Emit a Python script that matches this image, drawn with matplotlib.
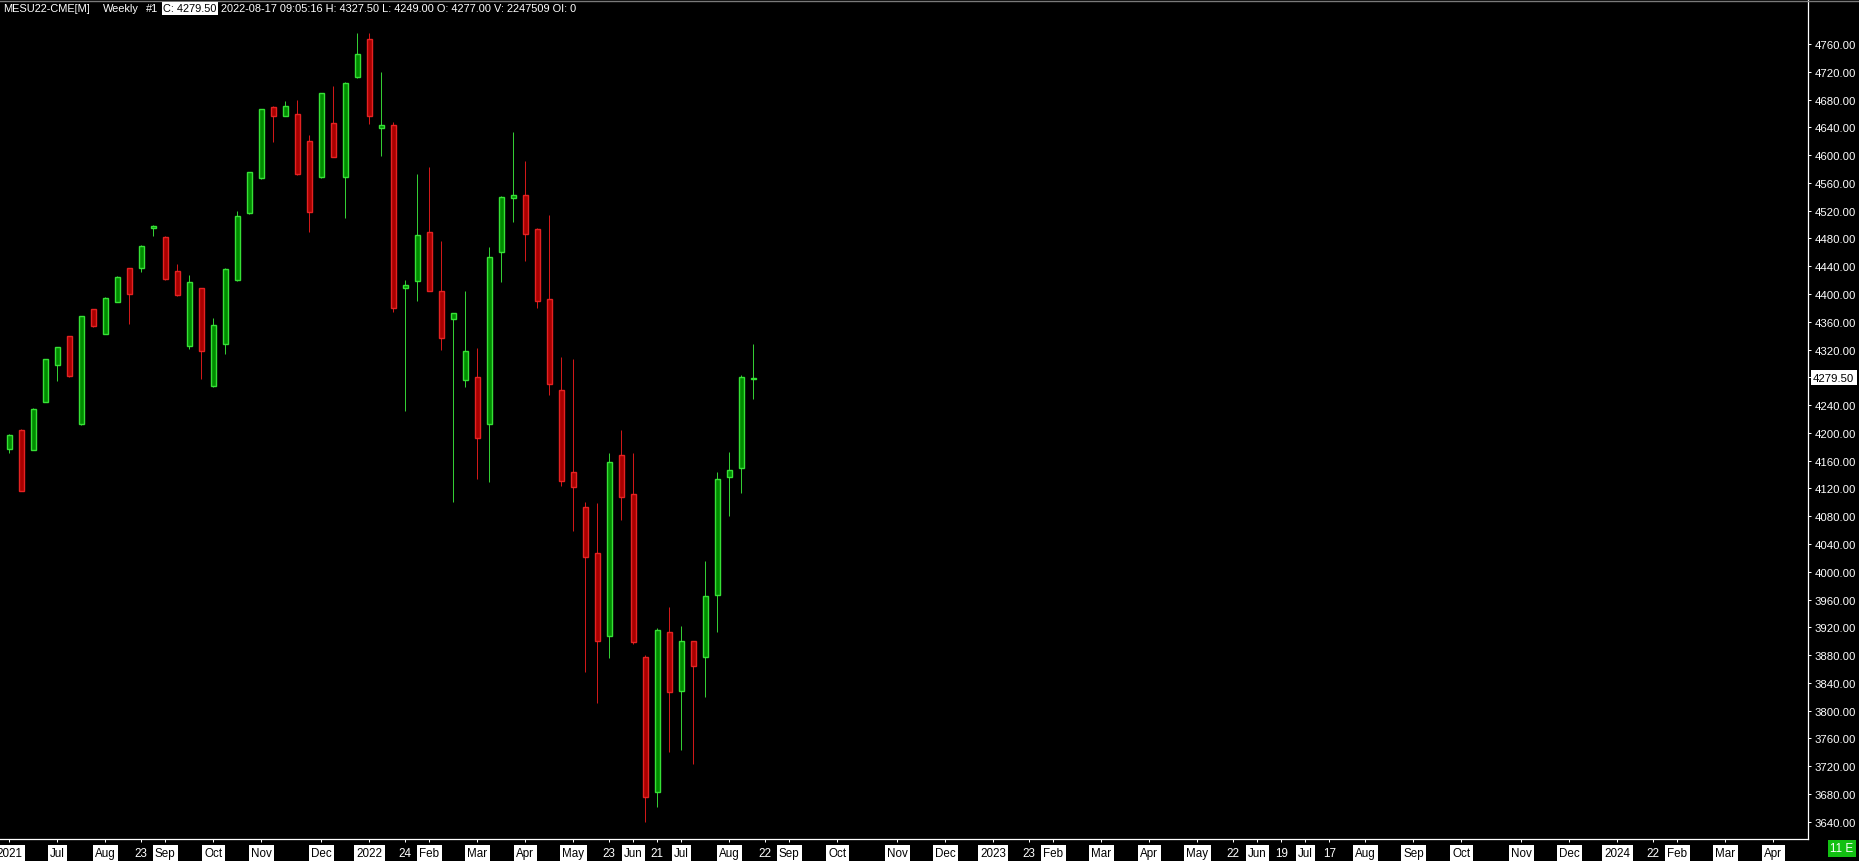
import numpy as np
import pandas as pd
import matplotlib
matplotlib.use("Agg")
import matplotlib.pyplot as plt
from matplotlib.lines import Line2D
from matplotlib.font_manager import FontProperties
import matplotlib.transforms as mtransforms

# ---------------- data ----------------
start_week = "2021-06-07"
opens = [4177, 4204, 4176, 4245, 4298, 4339, 4213, 4378, 4343, 4389,
         4437, 4437, 4495, 4482, 4433, 4325, 4408, 4267, 4328, 4420,
         4516, 4567, 4670, 4657, 4659, 4620, 4568, 4646, 4568, 4712,
         4767, 4639, 4643, 4409, 4419, 4489, 4404, 4364, 4276, 4280,
         4213, 4460, 4538, 4543, 4494, 4393, 4262, 4143, 4093, 4027,
         3908, 4168, 4112, 3877, 3683, 3914, 3828, 3900, 3878, 3966,
         4136, 4149, 4277.0]
highs = [4198, 4205, 4236, 4307, 4324, 4340, 4369, 4379, 4395, 4426,
         4438, 4470, 4500, 4483, 4443, 4427, 4409, 4365, 4438, 4520,
         4576, 4667, 4671, 4678, 4679, 4629, 4690, 4699, 4705, 4776,
         4776, 4719, 4648, 4420, 4573, 4583, 4476, 4373, 4404, 4322,
         4467, 4541, 4633, 4592, 4495, 4514, 4309, 4306, 4101, 4099,
         4171, 4204, 4171, 3880, 3919, 3950, 3922, 3901, 4015, 4143,
         4173, 4283, 4327.5]
lows = [4171, 4116, 4175, 4244, 4275, 4281, 4212, 4353, 4342, 4388,
        4357, 4431, 4483, 4420, 4397, 4321, 4277, 4266, 4314, 4419,
        4515, 4566, 4619, 4656, 4572, 4489, 4567, 4597, 4510, 4711,
        4645, 4599, 4374, 4231, 4390, 4404, 4320, 4100, 4266, 4133,
        4130, 4418, 4504, 4448, 4380, 4254, 4124, 4059, 3856, 3811,
        3876, 4075, 3896, 3640, 3662, 3741, 3744, 3723, 3820, 3914,
        4081, 4114, 4249.0]
closes = [4197, 4117, 4235, 4306, 4323, 4282, 4368, 4354, 4394, 4425,
          4400, 4469, 4498, 4421, 4398, 4418, 4318, 4356, 4436, 4512,
          4575, 4666, 4656, 4671, 4573, 4518, 4689, 4598, 4704, 4746,
          4657, 4643, 4380, 4413, 4485, 4405, 4336, 4372, 4318, 4192,
          4454, 4539, 4542, 4487, 4390, 4271, 4131, 4122, 4022, 3901,
          4158, 4108, 3899, 3675, 3916, 3827, 3900, 3864, 3965, 4134,
          4147, 4281, 4279.5]

tick_dates = ["2021-06-07", "2021-07-05", "2021-08-02", "2021-08-23", "2021-09-06",
              "2021-10-04", "2021-11-01", "2021-12-06", "2022-01-03", "2022-01-24",
              "2022-02-07", "2022-03-07", "2022-04-04", "2022-05-02", "2022-05-23",
              "2022-06-06", "2022-06-20", "2022-07-04", "2022-08-01", "2022-08-22",
              "2022-09-05", "2022-10-03", "2022-11-07", "2022-12-05", "2023-01-02",
              "2023-01-23", "2023-02-06", "2023-03-06", "2023-04-03", "2023-05-01",
              "2023-05-22", "2023-06-05", "2023-06-19", "2023-07-03", "2023-07-17",
              "2023-08-07", "2023-09-04", "2023-10-02", "2023-11-06", "2023-12-04",
              "2024-01-01", "2024-01-22", "2024-02-05", "2024-03-04", "2024-04-01"]
tick_labels = ["2021", "Jul", "Aug", "23", "Sep", "Oct", "Nov", "Dec", "2022", "24",
               "Feb", "Mar", "Apr", "May", "23", "Jun", "21", "Jul", "Aug", "22",
               "Sep", "Oct", "Nov", "Dec", "2023", "23", "Feb", "Mar", "Apr", "May",
               "22", "Jun", "19", "Jul", "17", "Aug", "Sep", "Oct", "Nov", "Dec",
               "2024", "22", "Feb", "Mar", "Apr"]

header_symbol = "MESU22-CME[M]"
header_period = "Weekly"
header_num = "#1"
header_close = "C: 4279.50"
header_rest = "2022-08-17 09:05:16 H: 4327.50 L: 4249.00 O: 4277.00 V: 2247509 OI: 0"
last_price = 4279.5
last_label = "4279.50"
corner_label = "11 E"

# ---------------- fonts ----------------
plt.rcParams["font.family"] = ["Liberation Sans", "DejaVu Sans"]
hdr_fp = FontProperties(family=["Liberation Sans", "DejaVu Sans"])

W, H = 1859, 862
fig = plt.figure(figsize=(W / 100, H / 100), dpi=100, facecolor="black")
ax = fig.add_axes([0, 22 / H, 1808 / W, 839 / H], facecolor="black")

o = np.array(opens, float)
h = np.array(highs, float)
l = np.array(lows, float)
c = np.array(closes, float)
x = np.arange(len(o))
up = c >= o

g_fill, g_edge, g_wick = "#008c00", "#36e036", "#33cc33"
r_fill, r_edge, r_wick = "#a80000", "#e42222", "#d01818"

lw = 0.72
ax.vlines(x[up], l[up], h[up], color=g_wick, lw=lw, zorder=2)
ax.vlines(x[~up], l[~up], h[~up], color=r_wick, lw=lw, zorder=2)
bw = 0.45
ax.bar(x[up], (c - o)[up], bottom=o[up], width=bw, color=g_fill,
       edgecolor=g_edge, linewidth=lw * 1.4, zorder=3)
ax.bar(x[~up], (o - c)[~up], bottom=c[~up], width=bw, color=r_fill,
       edgecolor=r_edge, linewidth=lw * 1.4, zorder=3)

ax.set_xlim(-0.775, 149.89)
ax.set_ylim(3615.2, 4823.4)

# x ticks
start = pd.Timestamp(start_week)
tpos = [(pd.Timestamp(d) - start).days / 7 for d in tick_dates]
ax.set_xticks(tpos)
ax.set_xticklabels(tick_labels, fontsize=8.4)
ax.tick_params(axis="x", colors="white", length=2.5, width=0.72, pad=3.2)
for lbl, t in zip(ax.get_xticklabels(), tick_labels):
    if t.isdigit() and len(t) <= 2:
        lbl.set_color("white")
    else:
        lbl.set_color("black")
        lbl.set_bbox(dict(facecolor="white", edgecolor="none", pad=1.6))

# y ticks on right
yt = np.arange(3640, 4761, 40)
ax.yaxis.tick_right()
ax.set_yticks(yt)
ax.set_yticklabels(["" if abs(v - 4280) < 1 else f"{v:.2f}" for v in yt], fontsize=8.2)
ax.tick_params(axis="y", colors="white", length=2.5, width=0.72, pad=2,
               labelcolor="white")

for s in ["left", "top"]:
    ax.spines[s].set_visible(False)
for s in ["right", "bottom"]:
    ax.spines[s].set_color("white")
    ax.spines[s].set_linewidth(0.9)

# price marker on axis
trans = mtransforms.blended_transform_factory(ax.transAxes, ax.transData)
ax.text(1813 / 1808, last_price, last_label, transform=trans, ha="left", va="center",
        fontsize=8.2, color="black", clip_on=False,
        bbox=dict(facecolor="white", edgecolor="none", pad=1.6))

# top grey line
fig.add_artist(Line2D([0, 1], [1 - 1.5 / H, 1 - 1.5 / H], color="#7a7a7a", lw=1.0,
                      transform=fig.transFigure))

# header: font size fitted so the long piece spans the reference width
hy = 1 - 9.5 / H
t3 = fig.text(221 / W, hy, header_rest, color="white", fontproperties=hdr_fp,
              fontsize=9, ha="left", va="center")
fig.canvas.draw()
w3 = t3.get_window_extent().width
fs = min(10.5, 9 * 356.0 / w3)
t3.set_fontsize(fs)
fig.text(3 / W, hy, header_symbol, color="white", fontproperties=hdr_fp, fontsize=fs,
         ha="left", va="center")
fig.text(103 / W, hy, header_period, color="white", fontproperties=hdr_fp, fontsize=fs,
         ha="left", va="center")
fig.text(146 / W, hy, header_num, color="white", fontproperties=hdr_fp, fontsize=fs,
         ha="left", va="center")
fig.text(163 / W, hy, header_close, color="black", fontproperties=hdr_fp, fontsize=fs,
         ha="left", va="center",
         bbox=dict(facecolor="white", edgecolor="none", pad=0.8))

# corner box
fig.text(1842 / W, 1 - 849.5 / H, corner_label, color="white", fontsize=8.4,
         ha="center", va="center",
         bbox=dict(facecolor="#12c012", edgecolor="none", pad=1.6))

fig.savefig("out.png", dpi=100, facecolor="black")
